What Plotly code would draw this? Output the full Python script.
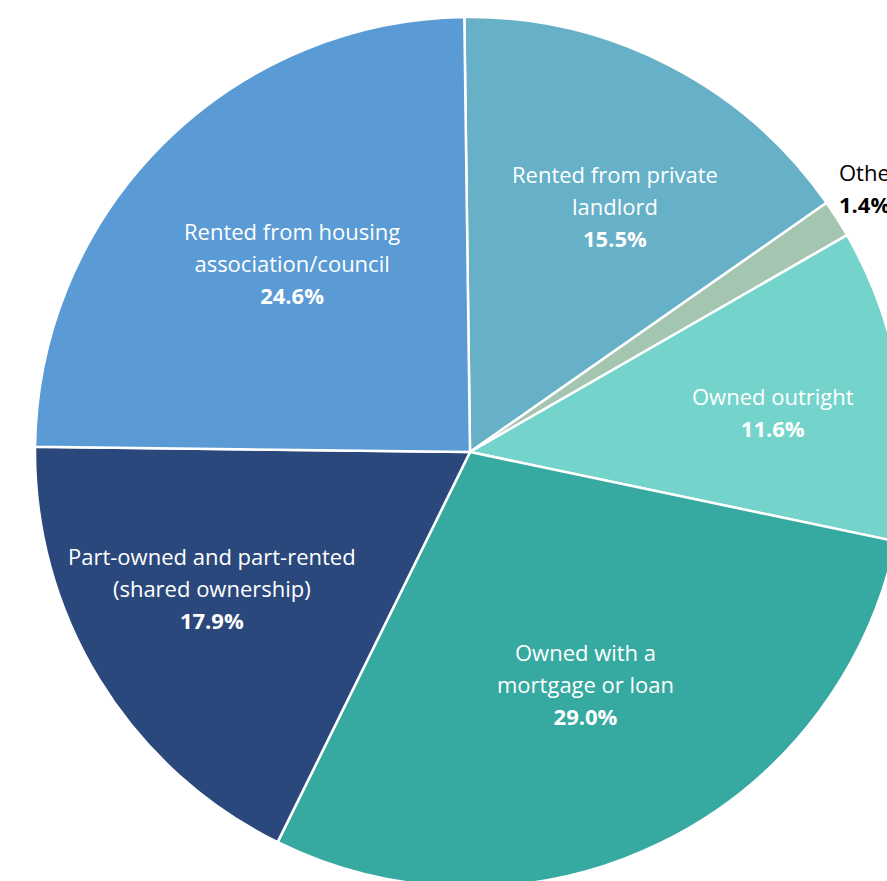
import math
import plotly.graph_objects as go

# Housing tenure shares (percent), in clockwise order from 12 o'clock
labels = [
    "Rented from private landlord",
    "Other",
    "Owned outright",
    "Owned with a mortgage or loan",
    "Part-owned and part-rented (shared ownership)",
    "Rented from housing association/council",
]
label_lines = [
    ["Rented from private", "landlord"],
    ["Other"],
    ["Owned outright"],
    ["Owned with a", "mortgage or loan"],
    ["Part-owned and part-rented", "(shared ownership)"],
    ["Rented from housing", "association/council"],
]
shares = [15.5, 1.4, 11.6, 29.0, 17.9, 24.6]
colors = ["#66b0c8", "#a4c5b0", "#74d4cc", "#36a9a1", "#2b487c", "#5b9bd5"]

# Label placement: radius as a fraction of the pie radius, and a small
# angular nudge (degrees) away from each slice's mid-angle.
label_radius = [0.653, 1.036, 0.701, 0.600, 0.672, 0.593]
label_nudge = [3.6, -3.1, 1.9, -0.4, 3.3, 1.5]
label_outside = [False, True, False, False, False, False]

ROTATION = -0.75
BASE = 24.6   # base font size: sets the 1.3 em line spacing
GLYPH = 22    # visible glyph size

W, H = 940, 904
TOP, BOTTOM = 17, 887          # pie box in pixels from the top
cx = W / 2
cy = (TOP + BOTTOM) / 2
R = min(W, BOTTOM - TOP) / 2


def span(s):
    return f"<span style='font-size:{GLYPH}px'>{s}</span>"


fig = go.Figure(
    go.Pie(
        labels=labels,
        values=shares,
        sort=False,
        direction="clockwise",
        rotation=ROTATION,
        textinfo="none",
        marker=dict(colors=colors, line=dict(color="white", width=2.5)),
        hoverinfo="skip",
        showlegend=False,
        domain=dict(x=[0, 1], y=[(H - BOTTOM) / H, (H - TOP) / H]),
    )
)

total = sum(shares)
start = 0.0
for lines, val, rf, nudge, outside in zip(
    label_lines, shares, label_radius, label_nudge, label_outside
):
    mid = (start + val / 2) / total * 360 + ROTATION + nudge
    start += val
    a = math.radians(mid)
    px = cx + rf * R * math.sin(a)
    py = cy - rf * R * math.cos(a)
    body = "<br>".join(span(l) for l in lines) + "<br>" + span(f"<b>{val:.1f}%</b>")
    fig.add_annotation(
        x=px / W,
        y=1 - py / H,
        xref="paper",
        yref="paper",
        yshift=2,
        text=body,
        showarrow=False,
        xanchor="left" if outside else "center",
        yanchor="middle",
        align="left" if outside else "center",
        font=dict(family="Open Sans", size=BASE, color="black" if outside else "white"),
    )

fig.update_layout(
    width=W,
    height=H,
    autosize=False,
    margin=dict(l=0, r=0, t=0, b=0),
    paper_bgcolor="white",
    plot_bgcolor="white",
)

fig.write_html(
    "out.html",
    config={"displayModeBar": False},
    post_script="document.body.style.margin='0';"
    "document.body.style.overflow='hidden';"
    "document.documentElement.style.overflow='hidden';",
)
